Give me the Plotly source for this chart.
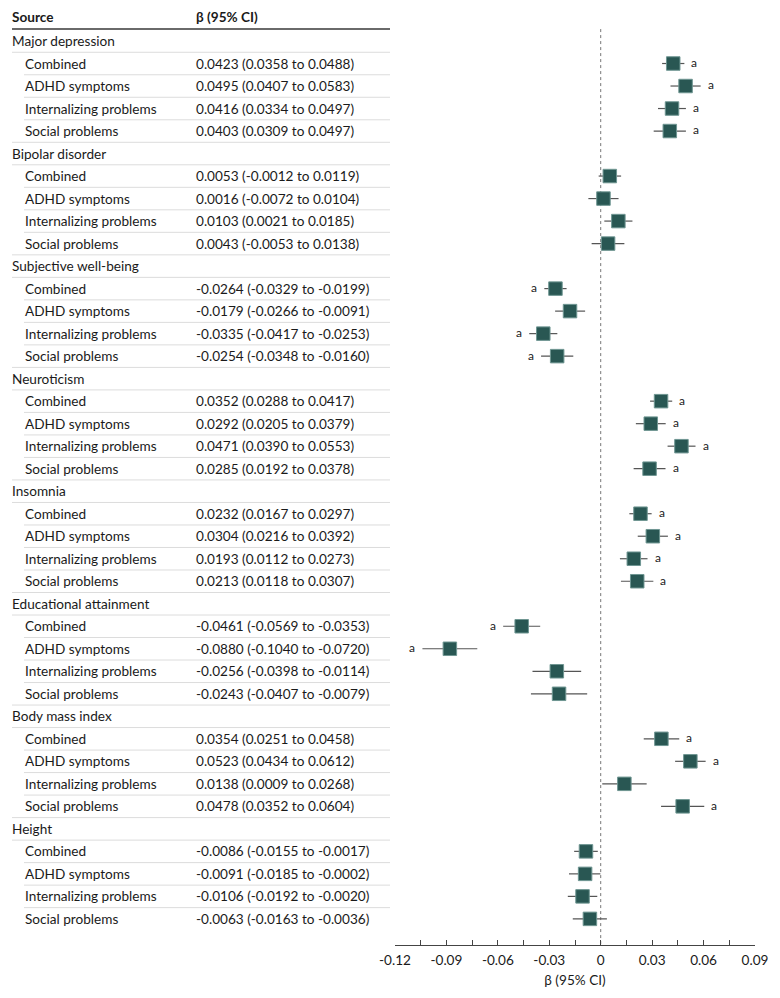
import plotly.graph_objects as go

outcomes = ["Major depression", "Bipolar disorder", "Subjective well-being", "Neuroticism",
            "Insomnia", "Educational attainment", "Body mass index", "Height"]
subgroups = ["Combined", "ADHD symptoms", "Internalizing problems", "Social problems"]

beta = [0.0423, 0.0495, 0.0416, 0.0403,
        0.0053, 0.0016, 0.0103, 0.0043,
        -0.0264, -0.0179, -0.0335, -0.0254,
        0.0352, 0.0292, 0.0471, 0.0285,
        0.0232, 0.0304, 0.0193, 0.0213,
        -0.0461, -0.0880, -0.0256, -0.0243,
        0.0354, 0.0523, 0.0138, 0.0478,
        -0.0086, -0.0091, -0.0106, -0.0063]
ci_low = [0.0358, 0.0407, 0.0334, 0.0309,
          -0.0012, -0.0072, 0.0021, -0.0053,
          -0.0329, -0.0266, -0.0417, -0.0348,
          0.0288, 0.0205, 0.0390, 0.0192,
          0.0167, 0.0216, 0.0112, 0.0118,
          -0.0569, -0.1040, -0.0398, -0.0407,
          0.0251, 0.0434, 0.0009, 0.0352,
          -0.0155, -0.0185, -0.0192, -0.0163]
ci_high = [0.0488, 0.0583, 0.0497, 0.0497,
           0.0119, 0.0104, 0.0185, 0.0138,
           -0.0199, -0.0091, -0.0253, -0.0160,
           0.0417, 0.0379, 0.0553, 0.0378,
           0.0297, 0.0392, 0.0273, 0.0307,
           -0.0353, -0.0720, -0.0114, -0.0079,
           0.0458, 0.0612, 0.0268, 0.0604,
           -0.0017, -0.0002, -0.0020, 0.0036]
ci_labels = [
    "0.0423 (0.0358 to 0.0488)", "0.0495 (0.0407 to 0.0583)", "0.0416 (0.0334 to 0.0497)", "0.0403 (0.0309 to 0.0497)",
    "0.0053 (-0.0012 to 0.0119)", "0.0016 (-0.0072 to 0.0104)", "0.0103 (0.0021 to 0.0185)", "0.0043 (-0.0053 to 0.0138)",
    "-0.0264 (-0.0329 to -0.0199)", "-0.0179 (-0.0266 to -0.0091)", "-0.0335 (-0.0417 to -0.0253)", "-0.0254 (-0.0348 to -0.0160)",
    "0.0352 (0.0288 to 0.0417)", "0.0292 (0.0205 to 0.0379)", "0.0471 (0.0390 to 0.0553)", "0.0285 (0.0192 to 0.0378)",
    "0.0232 (0.0167 to 0.0297)", "0.0304 (0.0216 to 0.0392)", "0.0193 (0.0112 to 0.0273)", "0.0213 (0.0118 to 0.0307)",
    "-0.0461 (-0.0569 to -0.0353)", "-0.0880 (-0.1040 to -0.0720)", "-0.0256 (-0.0398 to -0.0114)", "-0.0243 (-0.0407 to -0.0079)",
    "0.0354 (0.0251 to 0.0458)", "0.0523 (0.0434 to 0.0612)", "0.0138 (0.0009 to 0.0268)", "0.0478 (0.0352 to 0.0604)",
    "-0.0086 (-0.0155 to -0.0017)", "-0.0091 (-0.0185 to -0.0002)", "-0.0106 (-0.0192 to -0.0020)", "-0.0063 (-0.0163 to -0.0036)",
]
significant = [1, 1, 1, 1,
               0, 0, 0, 0,
               1, 0, 1, 1,
               1, 1, 1, 1,
               1, 1, 1, 1,
               1, 1, 0, 0,
               1, 1, 0, 1,
               0, 0, 0, 0]
tick_vals = [-0.12, -0.09, -0.06, -0.03, 0, 0.03, 0.06, 0.09]
tick_text = ["-0.12", "-0.09", "-0.06", "-0.03", "0", "0.03", "0.06", "0.09"]

FONT = "Lato"
FS = 13.6
TXT = "#1a1a1a"
OFF = 8                # page body margin offset
W, H = 780 - OFF, 998 - OFF

def px(xpix):
    return (xpix - OFF) / W

row_px = 22.51
row0 = 41 - OFF
axis_y = 945 - OFF
y_top = -row0 / row_px
y_bot = (axis_y - row0) / row_px

annotations = []
shapes = []

def txt(x, y, s, bold=False, size=FS):
    annotations.append(dict(x=px(x), y=y, xref="paper", yref="y",
                            text=f"<b>{s}</b>" if bold else s,
                            xanchor="left", yanchor="middle", showarrow=False, borderpad=0,
                            font=dict(family=FONT, size=size, color=TXT)))

def hline(x0, y, color="#dcdcdc", width=1):
    shapes.append(dict(type="line", xref="paper", yref="y", x0=px(x0), x1=px(390),
                       y0=y, y1=y, line=dict(color=color, width=width)))

txt(11, -1.05, "Source", bold=True)
txt(195, -1.05, "β (95% CI)", bold=True)
hline(12, -0.53, color="#6a6a6a", width=2)

rows_y = []
r = 0
k = 0
for gi, oc in enumerate(outcomes):
    txt(11, r, oc)
    hline(12, r + 0.5)
    r += 1
    for si, sg in enumerate(subgroups):
        txt(24, r, sg)
        txt(195, r, ci_labels[k])
        if si < 3:
            hline(24, r + 0.5)
        elif gi < len(outcomes) - 1:
            hline(12, r + 0.5)
        if significant[k]:
            if beta[k] > 0:
                annotations.append(dict(x=ci_high[k], y=r - 0.05, xref="x", yref="y", text="a",
                                        xanchor="left", yanchor="middle", xshift=5, showarrow=False,
                                        font=dict(family=FONT, size=12, color=TXT)))
            else:
                annotations.append(dict(x=ci_low[k], y=r - 0.05, xref="x", yref="y", text="a",
                                        xanchor="right", yanchor="middle", xshift=-5, showarrow=False,
                                        font=dict(family=FONT, size=12, color=TXT)))
        rows_y.append(r)
        r += 1
        k += 1

# dotted zero reference line
shapes.append(dict(type="line", xref="x", yref="y", x0=0, x1=0, y0=-0.53, y1=y_bot,
                   line=dict(color="#777777", width=1, dash="dot"), layer="below"))

fig = go.Figure()
fig.add_trace(go.Scatter(
    x=beta, y=rows_y, mode="markers",
    marker=dict(symbol="square", size=13.5, color="#295753",
                line=dict(color="#6f9692", width=1)),
    error_x=dict(type="data", symmetric=False,
                 array=[h - b for h, b in zip(ci_high, beta)],
                 arrayminus=[b - l for b, l in zip(beta, ci_low)],
                 color="#555555", thickness=1.2, width=0),
    hoverinfo="skip", showlegend=False,
))

fig.update_layout(
    width=W, height=H,
    margin=dict(l=0, r=0, t=0, b=H - axis_y, autoexpand=False),
    paper_bgcolor="white", plot_bgcolor="white",
    font=dict(family=FONT, size=FS, color=TXT),
    xaxis=dict(domain=[px(395), px(755)], range=[-0.12, 0.09],
               tickvals=tick_vals, ticktext=tick_text,
               ticks="inside", ticklen=5, tickcolor="#444444", tickwidth=1,
               minor=dict(dtick=0.015, tick0=0, ticks="inside", ticklen=5,
                          tickcolor="#444444", tickwidth=1),
               showline=True, linecolor="#444444", linewidth=1,
               showgrid=False, zeroline=False, automargin=False,
               ticklabelstandoff=3,
               tickfont=dict(family=FONT, size=FS, color=TXT),
               title=dict(text="β (95% CI)", font=dict(family=FONT, size=FS, color=TXT), standoff=8),
               fixedrange=True),
    yaxis=dict(range=[y_bot, y_top], visible=False, showgrid=False, zeroline=False,
               automargin=False, fixedrange=True),
    annotations=annotations,
    shapes=shapes,
)

fig.write_html("out.html")
